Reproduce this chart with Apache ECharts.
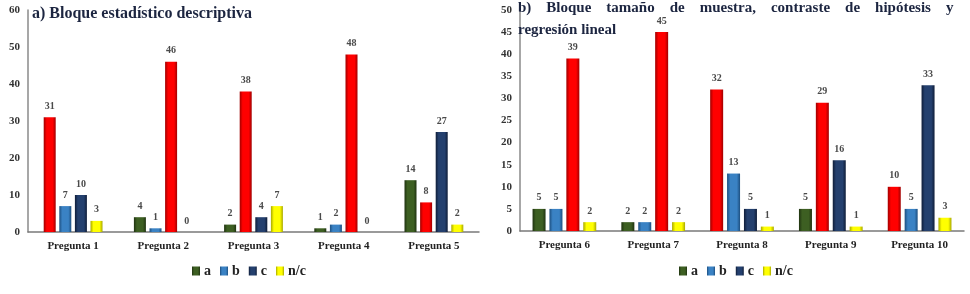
<!DOCTYPE html>
<html>
<head>
<meta charset="utf-8">
<script src="https://cdn.jsdelivr.net/npm/echarts@6/dist/echarts.min.js"></script>
<style>
  html, body { margin: 0; padding: 0; background: #fff; }
  #chart { width: 970px; height: 294px; }
</style>
</head>
<body>
<div id="chart"></div>
<script>
// Bloque a) - preguntas 1 a 5
const catsA = ['Pregunta 1', 'Pregunta 2', 'Pregunta 3', 'Pregunta 4', 'Pregunta 5']
const aA = [31, 4, 2, 1, 14]
const bA = [7, 1, 38, 2, 8]
const cA = [10, 46, 4, 48, 27]
const ncA = [3, 0, 7, 0, 2]
// respuesta correcta (se pinta en rojo)
const okA = ['a', 'c', 'b', 'c', 'b']

// Bloque b) - preguntas 6 a 10
const catsB = ['Pregunta 6', 'Pregunta 7', 'Pregunta 8', 'Pregunta 9', 'Pregunta 10']
const aB = [5, 2, 32, 5, 10]
const bB = [5, 2, 13, 29, 5]
const cB = [39, 45, 5, 16, 33]
const ncB = [2, 2, 1, 1, 3]
const okB = ['c', 'c', 'a', 'b', 'a']

const names = ['a', 'b', 'c', 'n/c']

const serif = '"Liberation Serif", "DejaVu Serif", serif'

// colores base: [borde oscuro, centro]
const palette = {
  a: ['#1f3210', '#3d5f22'],
  b: ['#1d4f80', '#3a82c4'],
  c: ['#0f1d38', '#24406e'],
  'n/c': ['#a8a800', '#ffff00'],
  ok: ['#a00000', '#ff0000'],
}

const grad = ([edge, mid]) =>
  new echarts.graphic.LinearGradient(0, 0, 1, 0, [
    { offset: 0, color: edge },
    { offset: 0.25, color: mid },
    { offset: 0.75, color: mid },
    { offset: 1, color: edge },
  ])

const makeSeries = (lists, ok, idx, barWidth) =>
  names.map((n, i) => ({
    name: n,
    type: 'bar',
    xAxisIndex: idx,
    yAxisIndex: idx,
    barWidth,
    barGap: '30%',
    itemStyle: { color: grad(palette[n]) },
    label: {
      show: true,
      position: 'top',
      distance: 6,
      fontFamily: serif,
      fontWeight: 'bold',
      fontSize: 10,
      color: '#4a4a4a',
    },
    data: lists[i].map((v, k) => (ok[k] === n
      ? { value: v, itemStyle: { color: grad(palette.ok) } }
      : v)),
  }))

const chart = echarts.init(document.getElementById('chart'))

const xAxisCfg = (cats, idx) => ({
  type: 'category',
  gridIndex: idx,
  data: cats,
  axisTick: { show: false },
  axisLine: { lineStyle: { color: '#7a7a7a', width: 1.5 } },
  axisLabel: {
    fontFamily: serif,
    fontWeight: 'bold',
    fontSize: 11,
    color: '#222',
    margin: 9,
  },
})

const yAxisCfg = (max, interval, idx) => ({
  type: 'value',
  gridIndex: idx,
  min: 0,
  max,
  interval,
  splitLine: { show: false },
  axisTick: { show: false },
  axisLine: { show: true, lineStyle: { color: '#8a8a8a', width: 1.5 } },
  axisLabel: {
    fontFamily: serif,
    fontWeight: 'bold',
    fontSize: 11,
    color: '#333',
    margin: 8,
  },
})

const legendCfg = (left) => ({
  data: names,
  left,
  top: 264,
  padding: 0,
  itemWidth: 8,
  itemHeight: 9,
  itemGap: 9,
  icon: 'rect',
  textStyle: { fontFamily: serif, fontWeight: 'bold', fontSize: 14, color: '#222', padding: [0, 0, 0, -1] },
})

chart.setOption({
  animation: false,
  title: [
    {
      text: 'a) Bloque estadístico descriptiva',
      left: 32,
      top: 6,
      padding: 0,
      textStyle: { fontFamily: serif, fontWeight: 'bold', fontSize: 16, color: '#1c2540' },
    },
    {
      text: 'b)    Bloque    tamaño    de    muestra,    contraste    de    hipótesis    y\nregresión lineal',
      left: 518,
      top: -3,
      padding: 0,
      textStyle: { fontFamily: serif, fontWeight: 'bold', fontSize: 15, lineHeight: 22, color: '#1c2540' },
    },
  ],
  legend: [legendCfg(192), legendCfg(679)],
  grid: [
    { left: 28, right: 491, top: 10, bottom: 62 },
    { left: 520, right: 6, top: 10, bottom: 63 },
  ],
  xAxis: [xAxisCfg(catsA, 0), xAxisCfg(catsB, 1)],
  yAxis: [yAxisCfg(60, 10, 0), yAxisCfg(50, 5, 1)],
  series: [
    ...makeSeries([aA, bA, cA, ncA], okA, 0, 12),
    ...makeSeries([aB, bB, cB, ncB], okB, 1, 13),
  ],
})
</script>
</body>
</html>
